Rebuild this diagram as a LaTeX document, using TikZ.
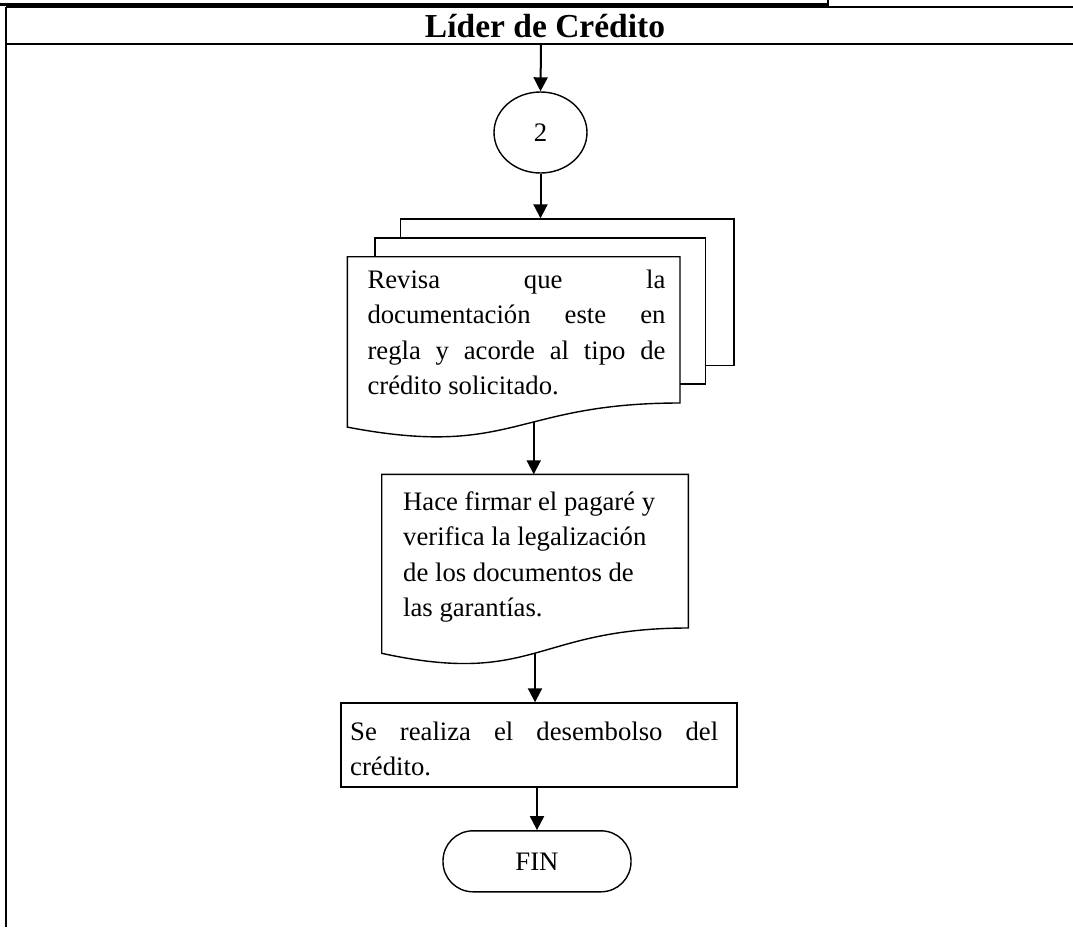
\documentclass[tikz,border=0pt]{standalone}
\usepackage{fontspec}
\setmainfont{Liberation Serif}
\usetikzlibrary{arrows.meta,shapes.geometric}
\newcommand\bodysize{\fontsize{26.7pt}{35.5pt}\selectfont}
\newcommand\titlesize{\fontsize{33.5pt}{37pt}\selectfont\bfseries}
\begin{document}
\begin{tikzpicture}[x=1pt,y=-1pt,
  frame/.style={line width=2.8pt},
  outline/.style={draw, line width=1.4pt, fill=white},
  flow/.style={line width=2pt, -{Triangle[length=14pt,width=14pt]}},
  label/.style={inner sep=0pt, anchor=base west, font=\bodysize},
]
\useasboundingbox (0,0) rectangle (1073,927);

% swimlane frame and header
\draw[frame] (0,4.5) -- (828,4.5);
\draw[frame] (828,0) -- (828,7);
\draw[frame] (6,7) -- (1073,7);
\draw[frame] (6,44) -- (1073,44);
\draw[frame] (6,7) -- (6,927);
\node[inner sep=0pt, anchor=base, font=\titlesize] (title) at (545,37) {Líder de Crédito};
\coordinate (lanetop) at (541,44);

% connector 2
\node[ellipse, draw, line width=1.4pt, minimum width=93pt, minimum height=81pt,
      inner sep=0pt, font=\bodysize] (c2) at (540.5,132.5) {2};

% multi-document: two sheets behind the front page
\node[outline, minimum width=333.3pt, minimum height=146.7pt, inner sep=0pt]
  (sheet3) at (567.35,292.35) {};
\node[outline, minimum width=330.7pt, minimum height=146pt, inner sep=0pt]
  (sheet2) at (540.35,311) {};
\draw[outline] (347.3,256.7) -- (680,256.7) -- (680,403)
  .. controls (513.6,403) and (513.6,458.8) .. (347.3,427.1)
  coordinate[pos=0.42] (d1out) -- cycle;
\node[label] (d1text) at (367.3,288) {\parbox[t]{298pt}{%
  \makebox[298pt][s]{Revisa que la}\\
  \makebox[298pt][s]{documentación este en}\\
  \makebox[298pt][s]{regla y acorde al tipo de}\\
  crédito solicitado.}};

% single document
\draw[outline] (381.7,474.3) coordinate (d2top) -- (688.3,474.3) -- (688.3,628)
  .. controls (535,628) and (535,686.6) .. (381.7,653.3)
  coordinate[pos=0.5] (d2out) -- cycle;
\node[label] (d2text) at (403,510) {\parbox[t]{284pt}{%
  Hace firmar el pagaré y\\
  verifica la legalización\\
  de los documentos de\\
  las garantías.}};

% process box
\node[draw, line width=1.4pt, minimum width=396pt, minimum height=84pt, inner sep=0pt]
  (box) at (539,745) {};
\node[label] (boxtext) at (350,740) {\parbox[t]{368pt}{%
  \makebox[368pt][s]{Se realiza el desembolso del}\\
  crédito.}};

% terminator
\node[draw, line width=1.4pt, rounded corners=30pt, minimum width=188pt,
      minimum height=61pt, inner sep=0pt, font=\bodysize] (fin) at (537,861.3) {FIN};

% flow
\draw[flow] (lanetop) -- (c2.north);
\draw[flow] (c2.south) -- (c2.south |- sheet3.north);
\draw[flow] (d1out) -- (d1out |- d2top);
\draw[flow] (d2out) -- (d2out |- box.north);
\draw[flow] (box.south -| fin.north) -- (fin.north);
\end{tikzpicture}
\end{document}
